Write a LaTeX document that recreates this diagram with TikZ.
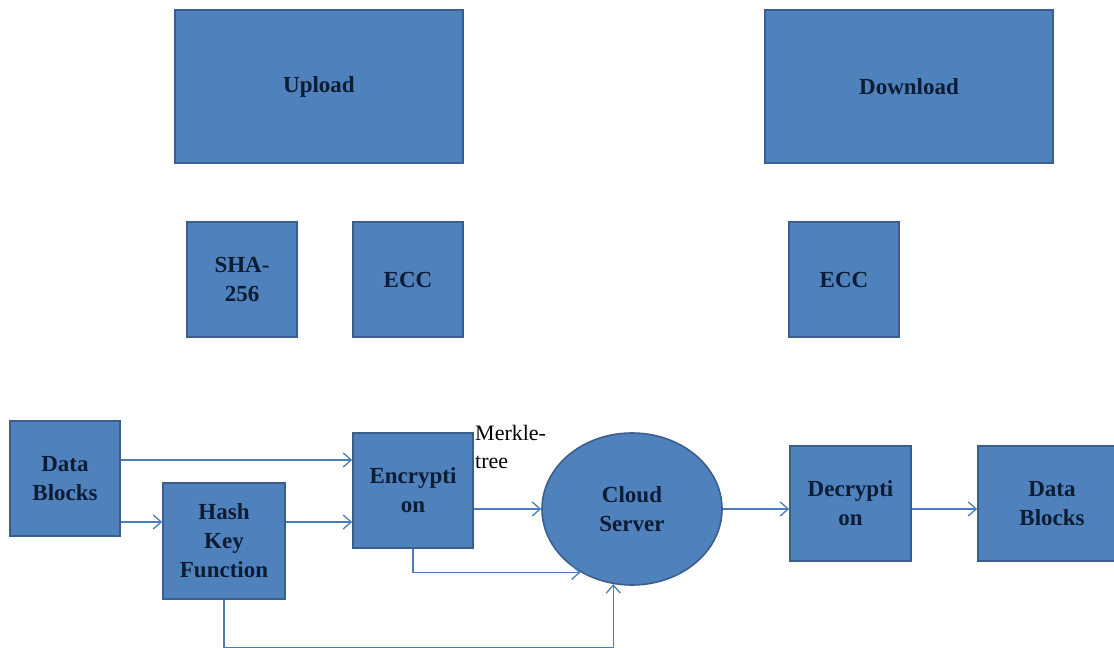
\documentclass[tikz,border=0pt]{standalone}
\usepackage{fontspec}
\setmainfont{Liberation Serif}
\usetikzlibrary{arrows.meta,shapes.geometric}
\definecolor{boxblue}{HTML}{4F81BD}
\definecolor{boxedge}{HTML}{3A5F8C}
\definecolor{labelnavy}{HTML}{0B1C33}
\definecolor{linkblue}{HTML}{4A7EBB}

\begin{document}
\begin{tikzpicture}[x=1pt, y=-1pt, >={Straight Barb[length=8pt,width=14pt]}]
        \tikzstyle{block} = [rectangle, draw=boxedge, fill=boxblue, line width=1.6pt,
                            text=labelnavy, align=center, inner sep=0pt,
                            font=\fontsize{23}{29}\selectfont\bfseries]
        \tikzstyle{link} = [->, draw=linkblue, line width=1.3pt]

        \useasboundingbox (0,0) rectangle (1114,648);
        \clip (0,0) rectangle (1114,648);

        % Blocs du haut
        \node[block, minimum width=288pt, minimum height=153pt] (upload) at (319,86.5) {Upload};
        \node[block, minimum width=288pt, minimum height=153pt] (download) at (909,86.5) {Download};
        \node[block, minimum width=110pt, minimum height=115pt] (sha) at (242,279.5) {SHA-\\256};
        \node[block, minimum width=110pt, minimum height=115pt] (eccup) at (408,279.5) {ECC};
        \node[block, minimum width=110pt, minimum height=115pt] (eccdown) at (844,279.5) {ECC};

        % Chaine de traitement
        \node[block, minimum width=110pt, minimum height=115pt] (data1) at (65,478.5) {Data\\Blocks};
        \node[block, minimum width=122pt, minimum height=116pt] (hash) at (224,541) {Hash\\Key\\Function};
        \node[block, minimum width=120pt, minimum height=115pt] (enc) at (413,490.5) {Encrypti\\on};
        \node[block, ellipse, minimum width=180pt, minimum height=152pt] (cloud) at (632,509) {Cloud\\Server};
        \node[block, minimum width=121pt, minimum height=115pt] (dec) at (850.5,503.5) {Decrypti\\on};
        \node[block, minimum width=148pt, minimum height=115pt] (data2) at (1052,503.5) {Data\\Blocks};
        \node[anchor=north west, inner sep=0pt, align=left, font=\fontsize{22}{28}\selectfont] (merkle) at (475,425) {Merkle-\\tree};

        % Flèches
        \coordinate (d1a) at ([yshift=18.5pt]data1.east);
        \coordinate (d1b) at ([yshift=-43.5pt]data1.east);
        \coordinate (h1) at ([yshift=19pt]hash.east);
        \draw[link] (d1a) -- (d1a -| enc.west);
        \draw[link] (d1b) -- (d1b -| hash.west);
        \draw[link] (h1) -- (h1 -| enc.west);
        \draw[link] (enc.east |- cloud.west) -- (cloud.west);
        \draw[link] (enc.south) |- (cloud.231.6);
        \draw[link] (hash.south) -- ++(0,48) -| (cloud.256.4);
        \draw[link] (cloud.east) -- (cloud.east -| dec.west);
        \draw[link] (cloud.east -| dec.east) -- (cloud.east -| data2.west);
\end{tikzpicture}
\end{document}
